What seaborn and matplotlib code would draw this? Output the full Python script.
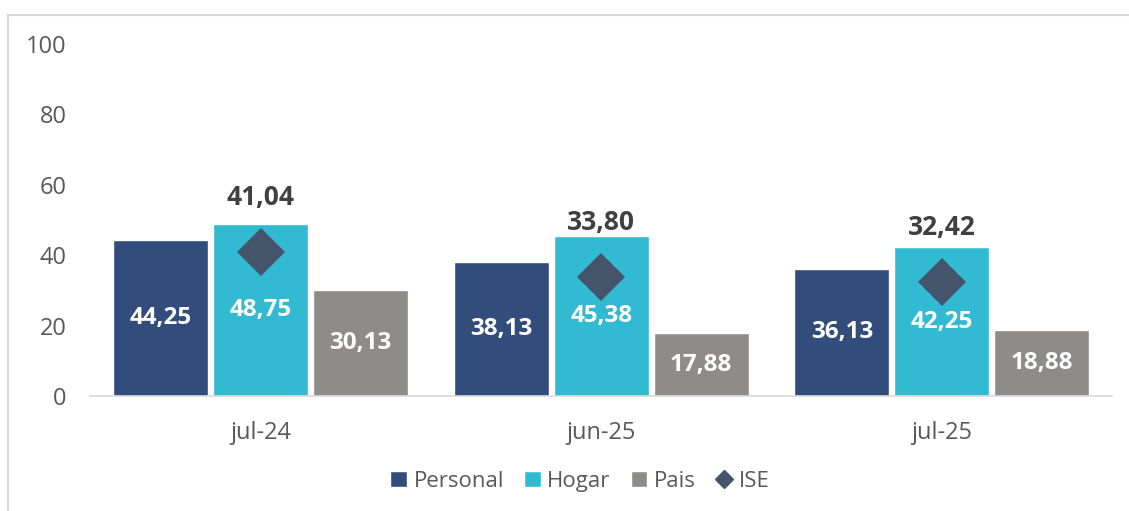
import numpy as np
import pandas as pd
import matplotlib.pyplot as plt
import seaborn as sns
from matplotlib.patches import Patch
from matplotlib.lines import Line2D

# === Data ===
months = ['jul-24', 'jun-25', 'jul-25']
series = ['Personal', 'Hogar', 'Pais']
personal = [44.25, 38.13, 36.13]
hogar = [48.75, 45.38, 42.25]
pais = [30.13, 17.88, 18.88]
ise = [41.04, 33.80, 32.42]

colors = {'Personal': '#324D7C', 'Hogar': '#33BAD3', 'Pais': '#8F8B8B'}
ise_color = '#44546A'

df = pd.DataFrame({
    'mes': months * 3,
    'serie': np.repeat(series, len(months)),
    'valor': personal + hogar + pais,
})

def fmt(v):
    return f"{v:.2f}".replace('.', ',')

# === Style ===
sns.set_style('white')
plt.rcParams['font.family'] = ['Open Sans', 'DejaVu Sans']

fig = plt.figure(figsize=(11.29, 5.11), dpi=100)
ax = fig.add_axes([0.08, 1 - 396 / 511, 0.905, (396 - 44) / 511])

sns.barplot(data=df, x='mes', y='valor', hue='serie', order=months,
            hue_order=series, palette=colors, width=0.88, gap=0.05,
            saturation=1, ax=ax, legend=False)

for cont in ax.containers:
    labels = [fmt(b.get_height()) for b in cont]
    ax.bar_label(cont, labels=labels, label_type='center', color='white',
                 fontsize=17.5, fontweight='bold')

sns.pointplot(x=months, y=ise, order=months, color=ise_color, markers='D',
              linestyle='none', markersize=24, markeredgewidth=0, ax=ax,
              errorbar=None)

for i, v in enumerate(ise):
    ax.annotate(fmt(v), (i, v), xytext=(0, 39), textcoords='offset points',
                ha='center', va='center', fontsize=19, fontweight='bold',
                color='#404040')

ax.set_ylim(0, 100)
ax.set_yticks(range(0, 101, 20))
ax.set_xlim(-0.5, 2.5)
ax.set_xlabel('')
ax.set_ylabel('')
sns.despine(ax=ax, left=True)
ax.spines['bottom'].set_color('#D9D9D9')
ax.spines['bottom'].set_linewidth(1.2)
ax.tick_params(axis='both', length=0, labelsize=17, labelcolor='#595959')
ax.tick_params(axis='y', pad=17)
ax.tick_params(axis='x', pad=18)

# outer frame (top and left edge visible)
fig.patches.append(plt.Rectangle((8 / 1129, -0.1), 1.2, 0.1 + (511 - 15) / 511,
                                 transform=fig.transFigure, fill=False,
                                 edgecolor='#D9D9D9', linewidth=1.5))

handles = [Patch(facecolor=colors[s], label=s) for s in series]
handles.append(Line2D([], [], marker='D', color=ise_color, linestyle='none',
                      markersize=9, label='ISE'))
fig.legend(handles=handles, loc='center', bbox_to_anchor=(580 / 1129, 1 - 481 / 511),
           ncol=4, frameon=False, fontsize=16, handlelength=0.75, handleheight=0.75,
           handletextpad=0.3, columnspacing=0.9, labelcolor='#595959')

plt.savefig('out.png', dpi=100)
plt.close()
